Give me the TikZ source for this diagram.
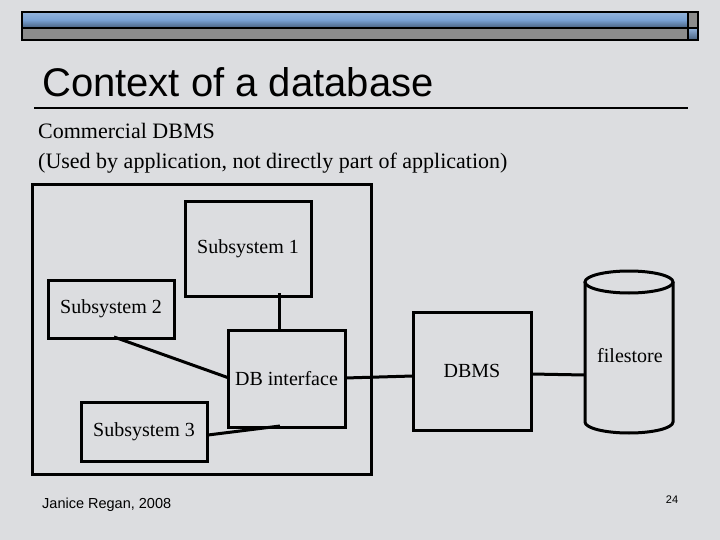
\documentclass[tikz,border=0pt]{standalone}
\usepackage{fontspec}
\setmainfont{Liberation Serif}
\newfontfamily\arialf{Liberation Sans}
\definecolor{bg}{RGB}{220,221,224}
\definecolor{barblue}{RGB}{120,160,210}
\definecolor{bargrey}{RGB}{140,140,140}
\begin{document}
\begin{tikzpicture}[x=1pt,y=-1pt,
  box/.style={draw,line width=3pt,font=\fontsize{20}{24}\selectfont},
  lnk/.style={line width=3pt}]
\fill[bg] (0,0) rectangle (720,540);
\useasboundingbox (0,0) rectangle (720,540);
% header bar
\shade[top color=barblue!80!white,bottom color=barblue!60!black,middle color=barblue] (22,12) rectangle (688,28);
\fill[bargrey] (22,28) rectangle (688,40);
\fill[bargrey] (688,12) rectangle (698,28);
\shade[top color=barblue!80!white,bottom color=barblue!60!black] (688,28) rectangle (698,40);
\draw[line width=1.5pt] (22,12) rectangle (698,40) (22,28)--(698,28) (688,12)--(688,40);
\node[anchor=base west,font=\arialf\fontsize{40}{44}\selectfont,inner sep=0] (title) at (42,97) {Context of a database};
\draw[line width=1.5pt] (34,108)--(688,108);
\node[anchor=base west,font=\fontsize{22}{26}\selectfont,inner sep=0] (t1) at (38,139) {Commercial DBMS};
\node[anchor=base west,font=\fontsize{22}{26}\selectfont,inner sep=0] (t2) at (38,169) {(Used by application, not directly part of application)};
% diagram
\draw[line width=3pt] (32,185) rectangle (371,474);
\node[box,minimum width=126pt,minimum height=94pt] (s1) at (248,249) {Subsystem 1};
\node[box,minimum width=126pt,minimum height=58pt] (s2) at (111,309) {Subsystem 2};
\node[box,minimum width=117pt,minimum height=97pt] (dbi) at (286.5,378.5) {DB interface};
\node[box,minimum width=126pt,minimum height=59pt] (s3) at (144,431.5) {Subsystem 3};
\node[box,minimum width=118pt,minimum height=118pt] (dbms) at (472,371) {DBMS};
\draw[line width=3pt] (629,282) ellipse[x radius=44,y radius=11];
\draw[line width=3pt] (585,282) -- (585,422) arc[start angle=180,end angle=0,x radius=44,y radius=11] -- (673,282);
\coordinate (fs) at (585,375);
\node[font=\fontsize{20}{24}\selectfont] (fsl) at (630,356) {filestore};
\draw[lnk] (279,293)--(279,330);
\draw[lnk] (114,337)--(229,378);
\draw[lnk] (208,435)--(280,426);
\draw[lnk] (345,378)--(413,376);
\draw[lnk] (531,374)--(fs);
\node[anchor=base west,font=\arialf\fontsize{14.5}{17}\selectfont,inner sep=0] (foot) at (42,508) {Janice Regan, 2008};
\node[anchor=base,font=\arialf\fontsize{11}{13}\selectfont,inner sep=0] (pg) at (672,503) {24};
\end{tikzpicture}
\end{document}
